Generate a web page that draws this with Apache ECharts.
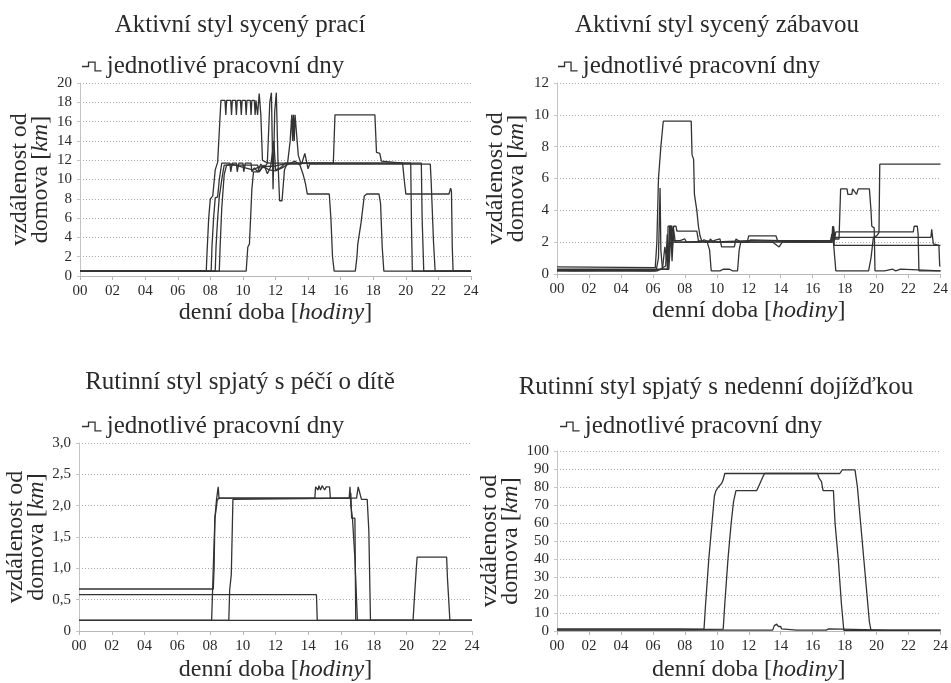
<!DOCTYPE html>
<html>
<head>
<meta charset="utf-8">
<script src="https://cdn.jsdelivr.net/npm/echarts@6/dist/echarts.min.js"></script>
<style>
    html, body { margin: 0; padding: 0; background: #fff; }
    #chart { width: 951px; height: 683px; }
</style>
</head>
<body>
<div id="chart"></div>
<script>
    // titles and common texts
    var panelTitles = ['Aktivní styl sycený prací', 'Aktivní styl sycený zábavou',
        'Rutinní styl spjatý s péčí o dítě', 'Rutinní styl spjatý s nedenní dojížďkou'];
    var legendName = 'jednotlivé pracovní dny';
    var hourTicks = [0, 2, 4, 6, 8, 10, 12, 14, 16, 18, 20, 22, 24];
    var yMax = [20, 12, 3, 100];
    var yStep = [2, 2, 0.5, 10];

    // Aktivní styl sycený prací  [hour, km]
    var work1 = [[0,0.5],[7.75,0.5],[7.8,2.5],[7.9,6],[8.0,8],[8.15,8.3],[8.3,11],[8.45,11.8],[8.55,15],[8.65,18.2],
        [8.9,18.2],[8.95,16.7],[9.0,18.2],[9.25,18.2],[9.3,16.7],[9.35,18.2],[9.55,18.2],[9.6,16.7],[9.65,18.2],
        [9.85,18.2],[9.9,16.7],[9.95,18.2],[10.15,18.2],[10.2,16.7],[10.25,18.2],[10.45,18.2],[10.5,16.7],[10.55,18.2],
        [10.7,18.2],[10.75,16.7],[10.8,18.2],[10.9,16.7],[11.0,18.9],[11.1,16.7],[11.2,12],[11.4,11.8],[11.6,11.7],
        [15.55,11.7],[15.65,16.7],[18.1,16.7],[18.2,12.8],[18.4,12.7],[18.5,11.9],[18.6,11.7],[19.8,11.7],[19.9,10],
        [20.0,8.5],[22.65,8.5],[22.75,9.1],[22.8,8.8],[22.85,3],[22.9,0.5],[24,0.5]];
    var work2 = [[0,0.5],[8.05,0.5],[8.1,3],[8.2,6],[8.3,8.1],[8.45,8.2],[8.55,10],[8.7,11.7],[9.2,11.7],[9.25,10.8],
        [9.35,11.7],[9.6,11.7],[9.65,10.8],[9.75,11.7],[10.0,11.7],[10.05,10.8],[10.15,11.7],[10.5,11.7],[10.55,10.8],
        [10.7,11.2],[10.9,10.8],[11.1,11.6],[11.3,11.2],[11.5,11.7],[11.65,18],[11.75,19],[11.85,9],[11.95,17],
        [12.05,19],[12.15,12],[12.25,7.8],[12.4,7.8],[12.55,11],[12.75,11.8],[12.9,14],[13.0,16.7],[13.05,14],
        [13.1,16.7],[13.15,14],[13.2,16.7],[13.3,16.7],[13.4,12.5],[13.55,11.7],[20.3,11.7],[20.35,5],[20.4,0.5],[24,0.5]];
    var work3 = [[0,0.5],[8.3,0.5],[8.35,3],[8.45,6],[8.55,8.2],[8.75,10.5],[8.85,11.5],[10.9,11.5],[11.0,10.8],
        [11.3,11.5],[11.5,10.6],[11.7,11.3],[11.9,14],[12.0,11],[12.3,11.2],[12.6,11.7],[20.95,11.7],[21.0,6],
        [21.1,0.5],[24,0.5]];
    var work4 = [[0,0.5],[8.55,0.5],[8.6,3],[8.7,7],[8.85,10.5],[9.0,11.5],[9.3,11.6],[10.6,11.0],[11.0,11.3],
        [12.0,11.4],[12.5,11.6],[13.6,11.6],[13.8,12.7],[13.9,12.5],[14.0,11.1],[14.1,11.6],[21.5,11.6],[21.55,10],
        [21.7,3.5],[21.8,0.5],[24,0.5]];
    var work5 = [[0,0.5],[10.2,0.5],[10.3,3],[10.4,3.3],[10.55,9],[10.65,10.8],[11.0,10.8],[11.2,11.4],[11.6,11],
        [12.0,10.9],[12.4,11.2],[12.8,11.6],[13.2,11.9],[13.5,11.5],[13.7,10.5],[13.85,9.5],[13.95,8.5],[15.3,8.5],
        [15.4,6],[15.5,2],[15.6,0.5],[16.9,0.5],[17.0,2],[17.05,3.3],[17.25,5.5],[17.45,8.3],[17.6,8.5],[18.35,8.5],
        [18.45,7.5],[18.55,3],[18.65,0.5],[24,0.5]];

    // Aktivní styl sycený zábavou
    var fun1 = [[0,0.45],[6.15,0.4],[6.25,2],[6.35,6],[6.5,8],[6.65,9.6],[8.4,9.6],[8.45,7.5],[8.55,7.2],[8.6,5],
        [8.75,4],[8.85,3],[8.95,2.4],[9.05,2.1],[9.2,2.0],[9.5,2.0],[9.6,2.2],[9.75,2.0],[12.0,2.0],[12.1,2.15],
        [14.0,2.1],[15.0,2.05],[17.2,2.1],[17.25,3],[17.35,2.1],[17.45,2.65],[22.3,2.65],[22.35,3.0],[22.55,3.0],
        [22.6,2.5],[22.65,0.2],[24,0.2]];
    var fun2 = [[0,0.25],[1.0,0.2],[1.05,0.1],[1.5,0.2],[4.2,0.2],[4.25,0.1],[6.2,0.2],[6.35,1],[6.45,5.4],[6.5,1.5],
        [6.6,0.3],[6.9,0.3],[6.95,3],[7.15,3],[7.2,1.5],[7.3,3],[7.45,3],[7.5,2.7],[8.75,2.7],[8.85,2.1],[9.4,2.0],
        [9.55,1.5],[9.65,0.2],[10.0,0.2],[10.05,0.3],[10.2,0.2],[10.4,0.3],[10.5,0.2],[10.8,0.3],[11.0,0.2],[11.3,0.2],
        [11.4,1.5],[11.5,2.0],[11.9,2.0],[12.0,2.4],[13.7,2.4],[13.8,2.1],[17.2,2.1],[17.3,3],[17.4,2.2],[17.65,2.2],
        [17.75,5.35],[18.15,5.35],[18.2,5.0],[18.45,5.0],[18.5,5.35],[18.75,5.0],[18.85,5.35],[19.55,5.35],[19.65,4],
        [19.7,3],[19.85,2.9],[19.9,0.2],[20.3,0.2],[20.4,0.3],[20.5,0.2],[21.0,0.3],[21.2,0.2],[21.5,0.3],[21.6,0.2],
        [24,0.2]];
    var fun3 = [[0,0.2],[4.0,0.25],[5.9,0.2],[6.3,0.25],[6.6,0.3],[6.75,1.7],[6.85,1.7],[6.95,0.3],[7.05,3],[7.2,3],
        [7.3,2.1],[7.7,2.1],[8.0,2.2],[8.1,2.0],[9.8,2.1],[10.2,2.2],[10.3,1.7],[11.1,1.7],[11.2,2.2],[11.5,2.0],
        [13.5,2.0],[13.6,1.9],[13.9,1.7],[14.1,2.0],[17.1,2.0],[17.2,2.5],[17.3,2.0],[17.45,0.2],[19.5,0.2],[19.65,1],
        [19.8,2.3],[20.0,2.4],[20.15,2.6],[20.2,6.9],[24,6.9]];
    var fun4 = [[0,0.2],[6.3,0.2],[6.8,0.5],[6.9,2.5],[7.0,1.0],[7.1,3],[7.2,0.8],[7.3,2.8],[7.4,2.0],[9.0,2.0],
        [9.2,2.15],[9.5,2.0],[12.0,2.1],[17.3,2.0],[17.35,2.3],[23.4,2.3],[23.45,2.8],[23.55,1.9],[23.9,1.8],
        [23.95,0.5],[24,0.5]];
    var fun5 = [[0,0.3],[6.4,0.3],[6.5,0.2],[7.0,0.3],[7.1,2.0],[17.2,2.0],[17.3,3.0],[17.35,1.8],[24,1.8]];

    // Rutinní styl spjatý s péčí o dítě
    var child1 = [[0,0.67],[8.2,0.67],[8.25,1.0],[8.3,1.8],[8.4,2.1],[8.5,2.3],[8.55,2.12],[16.5,2.12],[16.55,2.3],
        [16.6,2.0],[16.7,1.8],[16.8,1.8],[16.85,1.15],[16.95,1.15],[17.0,0.17],[24,0.17]];
    var child2 = [[0,0.58],[14.5,0.58],[14.55,0.17],[24,0.17]];
    var child3 = [[0,0.17],[8.1,0.17],[8.2,1.0],[8.3,1.8],[8.45,2.1],[8.6,2.12],[14.4,2.12],[14.45,2.3],[14.6,2.25],
        [14.65,2.32],[14.75,2.25],[14.85,2.32],[15.0,2.25],[15.1,2.3],[15.3,2.3],[15.35,2.12],[16.95,2.12],[17.05,2.3],
        [17.15,2.3],[17.25,2.1],[17.6,2.1],[17.7,1.6],[17.8,0.17],[24,0.17]];
    var child4 = [[0,0.17],[9.15,0.17],[9.2,0.65],[9.3,0.9],[9.4,2.1],[9.5,2.12],[16.55,2.12],[16.6,2.2],[16.65,1.8],
        [16.85,1.8],[16.9,0.17],[24,0.17]];
    var child5 = [[0,0.17],[20.4,0.17],[20.5,0.6],[20.6,1.0],[20.65,1.18],[22.45,1.18],[22.5,0.85],[22.55,0.85],
        [22.65,0.17],[24,0.17]];

    // Rutinní styl spjatý s nedenní dojížďkou
    var comm1 = [[0,1.2],[7.7,1.2],[7.75,1],[9.2,1],[9.3,15],[9.5,40],[9.7,60],[9.85,75],[9.95,78],[10.1,80],[10.3,82],
        [10.4,84],[10.5,87.5],[16.3,87.5],[16.4,85],[16.55,83],[16.65,78],[17.3,78],[17.4,60],[17.6,40],[17.8,15],
        [17.95,0.3],[24,0.3]];
    var comm2 = [[0,0.6],[7.7,0.6],[7.75,1],[10.4,1],[10.5,15],[10.7,40],[10.9,60],[11.05,72],[11.2,78],[12.5,78],
        [12.7,82],[12.9,86],[13.0,87.5],[17.7,87.5],[17.85,89.5],[18.65,89.5],[18.8,80],[19.0,60],[19.2,40],[19.4,20],
        [19.55,5],[19.65,0.3],[24,0.3]];
    var comm3 = [[0,0.5],[12.9,0.5],[13.0,1.2],[13.05,0.5],[13.5,0.5],[13.6,3],[13.75,3.8],[13.85,2.5],[14.0,2.5],
        [14.05,1.2],[14.15,0.5],[15.0,0.5],[15.05,1.5],[15.1,0.5],[16.5,0.5],[16.55,1.2],[16.65,0.5],[16.75,1.2],
        [16.85,0.5],[17.0,1.2],[17.1,0.5],[20.7,0.5],[20.75,1.5],[20.85,0.5],[24,0.5]];

    var panelData = [
        [work1, work2, work3, work4, work5],
        [fun1, fun2, fun3, fun4, fun5],
        [child1, child2, child3, child4, child5],
        [comm1, comm2, comm3]
    ];

    var FONT = 'Liberation Serif';
    var TXT = '#2a2a2a';
    var pulseIcon = 'path://M0,4.4 L5.4,4.4 L5.4,0.4 L12.6,0.4 L12.6,8.4 L18,8.4 L18,9.6 L11.4,9.6 L11.4,1.6 L6.6,1.6 L6.6,5.6 L0,5.6 Z';

    var grids = [
        { left: 80, top: 83, width: 391, height: 193 },
        { left: 557, top: 83, width: 388, height: 191 },
        { left: 79, top: 443, width: 393, height: 191 },
        { left: 557, top: 451, width: 390, height: 183 }
    ];
    var titlePos = [[240, 10], [717, 10], [240, 367], [716, 372]];
    var legendPos = [[82, 54], [558, 54], [82, 414], [560, 414]];
    var yNameGap = [27, 30, 27, 30];
    var xNameGap = [25, 25, 27, 27];

    function hourLabel(v) {
        return (v < 10 ? '0' : '') + v;
    }

    function makeOption() {
        var option = {
            animation: false,
            backgroundColor: '#fff',
            title: [], legend: [], grid: [], xAxis: [], yAxis: [], series: []
        };
        for (var p = 0; p < 4; p++) {
            option.title.push({
                text: panelTitles[p],
                left: titlePos[p][0], top: titlePos[p][1], textAlign: 'center', padding: 0,
                textStyle: { fontFamily: FONT, fontSize: 25, fontWeight: 'normal', color: TXT, lineHeight: 30 }
            });
            option.legend.push({
                data: [legendName],
                left: legendPos[p][0], top: legendPos[p][1], padding: 0,
                icon: pulseIcon, itemWidth: 20, itemHeight: 10,
                selectedMode: false,
                textStyle: { fontFamily: FONT, fontSize: 25, color: TXT }
            });
            option.grid.push(grids[p]);
            option.xAxis.push({
                type: 'value', gridIndex: p, min: 0, max: 24, interval: 2,
                name: '{n|denní doba [}{i|hodiny}{n|]}',
                nameLocation: 'middle', nameGap: xNameGap[p],
                nameTextStyle: {
                    rich: {
                        n: { fontFamily: FONT, fontSize: 24, color: TXT },
                        i: { fontFamily: FONT, fontSize: 24, color: TXT, fontStyle: 'italic' }
                    }
                },
                axisLine: { lineStyle: { color: '#b8b8b8', width: 1 } },
                axisTick: { show: true, length: 4, lineStyle: { color: '#b8b8b8' } },
                splitLine: { show: false },
                axisLabel: { formatter: hourLabel, fontFamily: FONT, fontSize: 15, color: TXT, margin: 8 }
            });
            option.yAxis.push({
                type: 'value', gridIndex: p, min: 0, max: yMax[p], interval: yStep[p],
                name: '{n|vzdálenost od}\n{n|domova [}{i|km}{n|]}',
                nameLocation: 'middle', nameRotate: 90, nameGap: yNameGap[p],
                nameTextStyle: {
                    lineHeight: 21,
                    rich: {
                        n: { fontFamily: FONT, fontSize: 24, color: TXT, lineHeight: 21 },
                        i: { fontFamily: FONT, fontSize: 24, color: TXT, fontStyle: 'italic', lineHeight: 21 }
                    }
                },
                axisLine: { show: true, lineStyle: { color: '#c4c4c4', width: 1 } },
                axisTick: { show: true, length: 3, lineStyle: { color: '#c4c4c4' } },
                splitLine: { show: true, lineStyle: { color: '#a8a8a8', type: [1, 2], width: 1 } },
                axisLabel: {
                    fontFamily: FONT, fontSize: 15, color: TXT, margin: 8,
                    formatter: p === 2 ? function (v) { return v === 0 ? '0' : v.toFixed(1).replace('.', ','); } : null
                }
            });
            panelData[p].forEach(function (d) {
                option.series.push({
                    name: legendName, type: 'line', xAxisIndex: p, yAxisIndex: p,
                    data: d, showSymbol: false, symbol: 'none',
                    color: '#333',
                    lineStyle: { color: '#333', width: 1.3 }
                });
            });
        }
        return option;
    }

    var chart = echarts.init(document.getElementById('chart'));
    chart.setOption(makeOption());
</script>
</body>
</html>
